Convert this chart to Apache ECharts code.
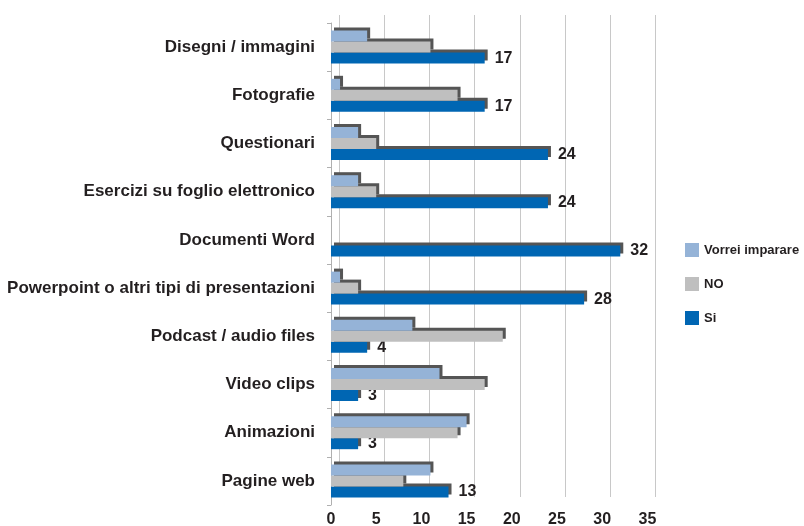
<!DOCTYPE html>
<html>
<head>
<meta charset="utf-8">
<script src="https://cdn.jsdelivr.net/npm/echarts@6/dist/echarts.min.js"></script>
<style>
  html, body { margin: 0; padding: 0; background: #fff; }
  #chart { width: 804px; height: 526px; }
</style>
</head>
<body>
<div id="chart"></div>
<script>
    var categories = ['Disegni / immagini', 'Fotografie', 'Questionari', 'Esercizi su foglio elettronico',
        'Documenti Word', 'Powerpoint o altri tipi di presentazioni', 'Podcast / audio files',
        'Video clips', 'Animazioni', 'Pagine web'];
    var vorreiImparare = [4, 1, 3, 3, 0, 1, 9, 12, 15, 11];
    var noValues = [11, 14, 5, 5, 0, 3, 19, 17, 14, 8];
    var siValues = [17, 17, 24, 24, 32, 28, 4, 3, 3, 13];
    var xTicks = [0, 5, 10, 15, 20, 25, 30, 35];

    var font = '"Liberation Sans", Arial, sans-serif';
    var textColor = '#231f20';

    var chart = echarts.init(document.getElementById('chart'));

    function barSeries(name, data, color, z, withLabel) {
        return {
            name: name,
            type: 'bar',
            xAxisIndex: 0,
            yAxisIndex: 0,
            data: data,
            z: z,
            barWidth: 11,
            barGap: '0%',
            itemStyle: {
                color: color,
                shadowColor: '#555555',
                shadowBlur: 0,
                shadowOffsetX: 3,
                shadowOffsetY: -3
            },
            label: {
                show: withLabel,
                position: 'right',
                distance: 10,
                color: textColor,
                fontFamily: font,
                fontWeight: 'bold',
                fontSize: 16
            },
            emphasis: { disabled: true }
        };
    }

    var option = {
        animation: false,
        backgroundColor: '#ffffff',
        legend: {
            orient: 'vertical',
            left: 680,
            top: 238,
            itemWidth: 14,
            itemHeight: 14,
            itemGap: 20,
            icon: 'rect',
            data: ['Vorrei imparare', 'NO', 'Si'],
            textStyle: { color: textColor, fontFamily: font, fontWeight: 'bold', fontSize: 13 }
        },
        grid: [
            // front grid: bars and labels
            { left: 331, top: 23, width: 316.4, height: 482, outerBoundsMode: 'none' },
            // back wall: gridlines only
            { left: 339, top: 15, width: 316.4, height: 482, outerBoundsMode: 'none' }
        ],
        xAxis: [
            {
                type: 'value', gridIndex: 0, min: 0, max: 35, interval: 5,
                axisLine: { show: false },
                axisTick: { show: false },
                splitLine: { show: false },
                axisLabel: {
                    color: textColor, fontFamily: font, fontWeight: 'bold', fontSize: 16, margin: 7,
                    formatter: function (v) { return xTicks.indexOf(v) >= 0 ? String(v) : ''; }
                }
            },
            {
                type: 'value', gridIndex: 1, min: 0, max: 35, interval: 5,
                axisLine: { show: false },
                axisTick: { show: false },
                axisLabel: { show: false },
                splitLine: { show: true, lineStyle: { color: '#c8c8c8', width: 1 } }
            }
        ],
        yAxis: [
            {
                type: 'category', gridIndex: 0, data: categories, inverse: true,
                axisLine: { show: true, lineStyle: { color: '#b0b0b0' } },
                axisTick: { show: true, length: 4, lineStyle: { color: '#b0b0b0' } },
                axisLabel: { color: textColor, fontFamily: font, fontWeight: 'bold', fontSize: 17, margin: 16 }
            },
            {
                type: 'category', gridIndex: 1, data: categories, inverse: true,
                axisLine: { show: false }, axisTick: { show: false }, axisLabel: { show: false }
            }
        ],
        series: [
            barSeries('Vorrei imparare', vorreiImparare, '#95b3d7', 4, false),
            barSeries('NO', noValues, '#bfbfbf', 3, false),
            barSeries('Si', siValues, '#0066b3', 2, true)
        ]
    };

    chart.setOption(option);
</script>
</body>
</html>
